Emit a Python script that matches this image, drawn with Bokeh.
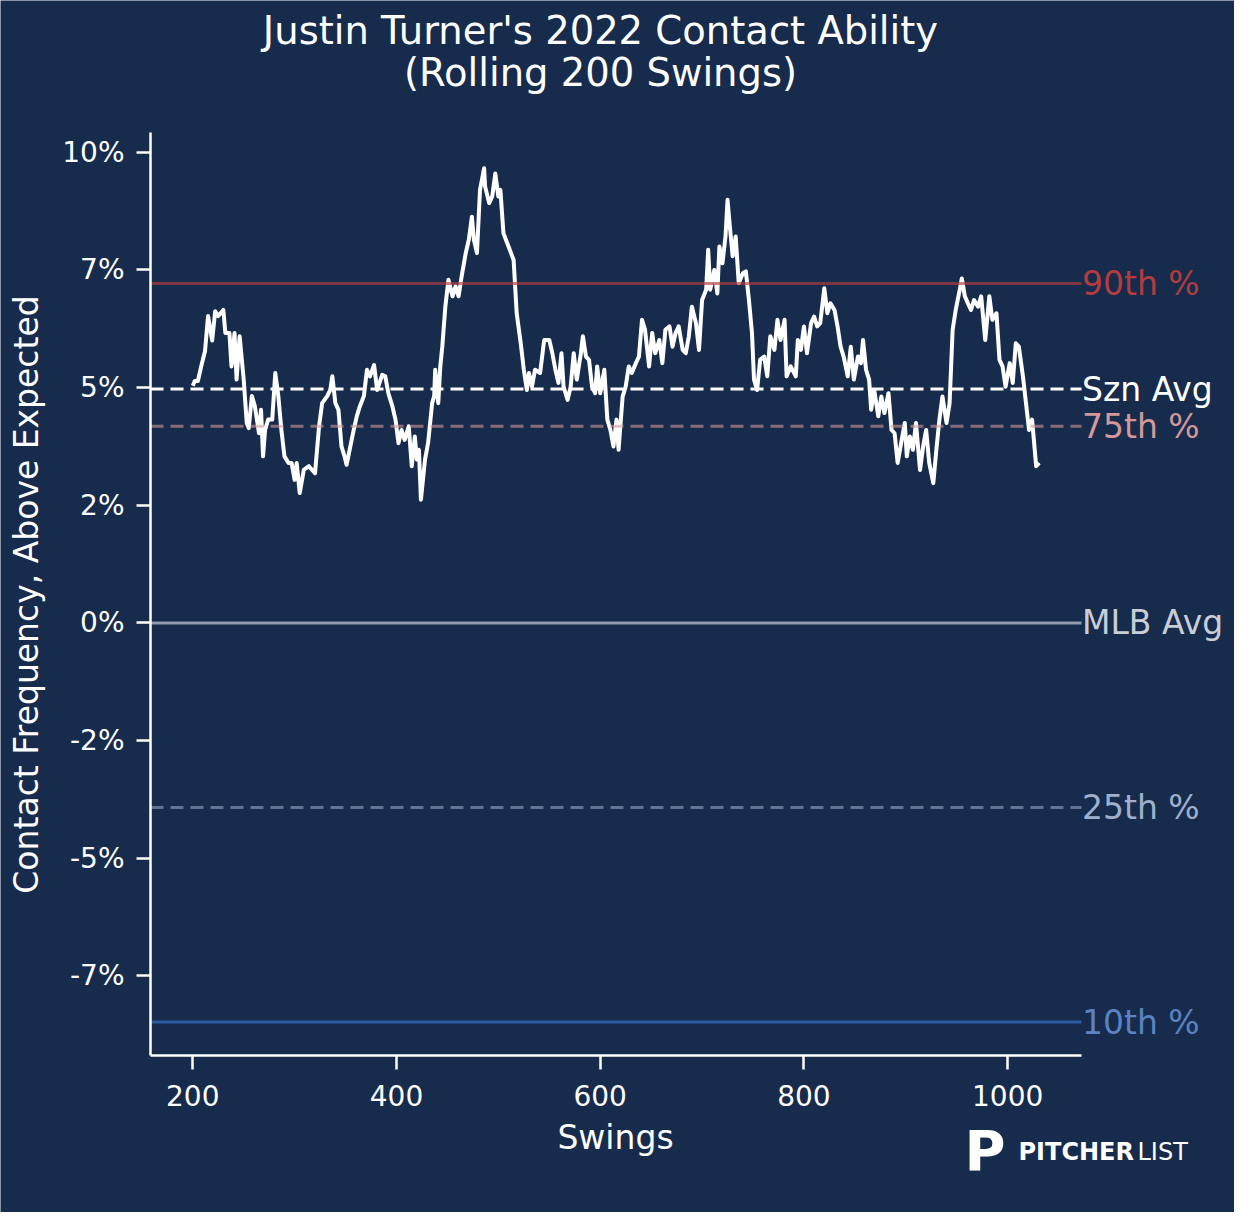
import math
from bokeh.plotting import figure
from bokeh.models import Range1d, FixedTicker
from bokeh.core.properties import value
from bokeh.embed import file_html
from bokeh.resources import INLINE

# ---------------- data ----------------
swings = [200, 202, 205, 209, 212, 215, 219, 222, 225, 230, 232, 236, 238, 241, 243, 246,
          250, 253, 255, 258, 261, 265, 267, 269, 271, 274, 278, 281, 284, 287, 290, 294,
          297, 300, 302, 305, 309, 314, 320, 324, 327, 332, 335, 337, 340, 343, 346, 349,
          351, 354, 358, 361, 364, 368, 371, 374, 378, 381, 386, 389, 392, 396, 399, 402,
          405, 408, 412, 415, 418, 420, 422, 424, 428, 431, 435, 437, 438, 441, 443, 445,
          448, 451, 455, 458, 461, 464, 468, 471, 474, 476, 479, 482, 486, 487, 491, 494,
          497, 500, 502, 505, 510, 515, 518, 522, 525, 528, 530, 533, 536, 541, 545, 550,
          553, 556, 559, 562, 564, 568, 571, 574, 577, 581, 583, 586, 589, 592, 595, 597,
          600, 604, 607, 610, 613, 616, 618, 622, 625, 628, 631, 635, 638, 641, 644, 648,
          651, 654, 658, 661, 664, 668, 671, 674, 677, 681, 684, 687, 690, 694, 697, 700,
          704, 706, 708, 712, 715, 717, 720, 723, 725, 727, 730, 733, 736, 740, 743, 746,
          749, 751, 754, 757, 761, 764, 767, 771, 774, 777, 781, 783, 787, 792, 794, 797,
          800, 803, 807, 810, 813, 816, 820, 823, 826, 830, 833, 836, 839, 843, 846, 849,
          853, 856, 858, 861, 864, 866, 869, 873, 876, 879, 883, 886, 889, 892, 896, 899,
          901, 904, 907, 910, 914, 917, 920, 923, 927, 930, 933, 936, 940, 943, 946, 949,
          953, 955, 958, 961, 964, 967, 971, 974, 978, 982, 985, 989, 992, 995, 998, 1002,
          1005, 1008, 1011, 1015, 1018, 1021, 1024, 1028, 1031]
contact_pct = [5.04, 5.14, 5.14, 5.52, 5.77, 6.52, 6.00, 6.62, 6.52, 6.65, 6.16, 6.16, 5.45, 6.16, 5.17, 6.09,
               5.17, 4.25, 4.14, 4.82, 4.60, 4.03, 4.53, 3.54, 4.10, 4.32, 4.32, 5.31, 4.82, 4.10, 3.54, 3.40,
               3.40, 3.04, 3.40, 2.76, 3.25, 3.33, 3.18, 4.18, 4.67, 4.82, 4.95, 5.24, 4.67, 4.53, 3.75, 3.54,
               3.36, 3.68, 4.10, 4.39, 4.60, 4.82, 5.38, 5.24, 5.48, 4.95, 5.27, 5.24, 4.88, 4.60, 4.32, 3.82,
               4.10, 3.89, 4.18, 3.33, 3.96, 3.47, 3.68, 2.62, 3.47, 3.82, 4.67, 4.82, 5.38, 4.67, 5.45, 5.88,
               6.73, 7.29, 6.94, 7.15, 6.94, 7.37, 7.86, 8.14, 8.63, 8.14, 7.86, 9.20, 9.66, 9.27, 8.92, 9.06,
               9.55, 9.06, 9.20, 8.28, 8.00, 7.71, 6.58, 5.94, 5.38, 4.95, 5.31, 5.02, 5.38, 5.31, 6.01, 6.01,
               5.73, 5.38, 5.10, 5.73, 5.02, 4.74, 5.02, 5.73, 5.17, 5.73, 6.09, 5.66, 5.59, 5.02, 4.88, 5.45,
               4.88, 5.38, 4.32, 4.10, 3.75, 4.32, 3.68, 4.81, 5.02, 5.45, 5.31, 5.52, 5.66, 6.44, 6.23, 5.45,
               6.16, 5.73, 6.01, 5.52, 6.23, 6.30, 5.87, 6.16, 6.30, 5.80, 5.73, 6.09, 6.72, 6.37, 5.80, 6.86,
               7.08, 7.93, 7.08, 7.50, 7.00, 8.00, 7.64, 8.21, 8.99, 8.49, 7.79, 8.21, 7.22, 7.43, 7.47, 6.86,
               6.16, 5.17, 4.95, 5.59, 5.66, 5.24, 6.09, 5.80, 6.44, 6.01, 6.44, 5.24, 5.45, 5.24, 6.01, 5.80,
               6.30, 5.73, 6.37, 6.51, 6.30, 6.37, 7.11, 6.58, 6.79, 6.65, 6.30, 5.87, 5.66, 5.24, 5.87, 5.17,
               5.66, 5.52, 6.01, 5.38, 5.17, 4.53, 4.95, 4.39, 4.81, 4.46, 4.88, 4.10, 4.03, 3.40, 3.89, 4.25,
               3.54, 3.96, 3.68, 4.25, 3.25, 3.75, 4.10, 3.40, 2.97, 3.68, 4.32, 4.81, 4.25, 4.67, 6.23, 6.65,
               7.08, 7.32, 6.94, 6.79, 6.65, 6.86, 6.72, 6.94, 6.01, 6.94, 6.44, 6.58, 5.59, 5.45, 5.02, 5.52,
               5.10, 5.94, 5.87, 5.24, 4.67, 4.10, 4.32, 3.33, 3.40]

x_ticks = [200, 400, 600, 800, 1000]
y_ticks = [-7.5, -5, -2.5, 0, 2.5, 5, 7.5, 10]
y_tick_labels = ["-7%", "-5%", "-2%", "0%", "2%", "5%", "7%", "10%"]

ref_names = ["90th %", "Szn Avg", "75th %", "MLB Avg", "25th %", "10th %"]
ref_values = [7.21, 4.97, 4.18, 0.0, -3.92, -8.48]
ref_line_colors = ["#B43C3C", "#FFFFFF", "#D49898", "#C8CDD6", "#A0B0CC", "#2C5AA0"]
ref_line_alpha = [0.65, 1.0, 0.6, 0.7, 0.55, 1.0]
ref_text_colors = ["#B43C3C", "#FFFFFF", "#D49898", "#C8CDD6", "#A0B0CC", "#5B82C2"]
ref_dashed = [False, True, True, False, True, False]

title_lines = ["Justin Turner's 2022 Contact Ability", "(Rolling 200 Swings)"]
x_label = "Swings"
y_label = "Contact Frequency, Above Expected"

# ---------------- layout ----------------
BG = "#172B4D"
FONT = "DejaVu Sans"
W, H = 1234, 1212
PAGE_OFF = 8
AX_L, AX_R, AX_T, AX_B = 158, 1089, 140, 1063      # visible axes box, page pixels
X0, X1 = 158.5, 1072.5
Y0, Y1 = -9.19, 10.42
SX = (AX_R - AX_L) / (X1 - X0)
SY = (AX_B - AX_T) / (Y1 - Y0)
# the drawing frame covers the whole canvas; the axes are pinned at X0 / Y0
XF0 = X0 - (AX_L - PAGE_OFF) / SX
XF1 = X0 + (PAGE_OFF + W - AX_L) / SX
YF0 = Y0 - (PAGE_OFF + H - AX_B) / SY
YF1 = Y1 + (AX_T - PAGE_OFF) / SY


def dx(px):
    return X0 + (px - AX_L) / SX


def dy(py):
    return Y0 + (AX_B - py) / SY


p = figure(width=W, height=H, output_backend="svg", toolbar_location=None,
           x_range=Range1d(XF0, XF1), y_range=Range1d(YF0, YF1),
           min_border_left=0, min_border_right=0, min_border_top=0, min_border_bottom=0)
p.background_fill_color = BG
p.border_fill_color = BG
p.outline_line_color = None
p.grid.visible = False

p.xaxis.ticker = FixedTicker(ticks=x_ticks)
p.yaxis.ticker = FixedTicker(ticks=y_ticks)
p.yaxis.major_label_overrides = {t: l for t, l in zip(y_ticks, y_tick_labels)}
p.xaxis.bounds = (X0, X1)
p.yaxis.bounds = (Y0, Y1)
p.xaxis.fixed_location = Y0
p.yaxis.fixed_location = X0
for ax in (p.xaxis, p.yaxis):
    ax.axis_line_color = "white"
    ax.axis_line_width = 2.5
    ax.major_tick_line_color = "white"
    ax.major_tick_line_width = 2.5
    ax.major_tick_out = 14
    ax.major_tick_in = 0
    ax.minor_tick_line_color = None
    ax.major_label_text_color = "white"
    ax.major_label_text_font = FONT
    ax.major_label_text_font_size = "28px"
p.xaxis.major_label_standoff = 15
p.yaxis.major_label_standoff = 12

p.line(swings, contact_pct, line_color="white", line_width=4, line_join="round")

for name, v, lc, la, tc, dsh in zip(ref_names, ref_values, ref_line_colors, ref_line_alpha,
                                    ref_text_colors, ref_dashed):
    p.segment(x0=[X0], x1=[X1], y0=[v], y1=[v], line_color=lc, line_alpha=la,
              line_width=3, line_dash="13 7" if dsh else "solid")
    p.text(x=[X1 + 0.5 / SX], y=[v], text=[name], text_color=tc, text_font=value(FONT),
           text_font_size="33px", text_align="left", text_baseline="middle")

# axis titles
p.text(x=[dx(623)], y=[dy(1145)], text=[x_label], text_color="white", text_font=value(FONT),
       text_font_size="33px", text_align="center", text_baseline="middle")
p.text(x=[dx(34)], y=[dy(602)], text=[y_label], text_color="white", text_font=value(FONT),
       text_font_size="33px", text_align="center", text_baseline="middle", angle=math.pi / 2)

# chart title (two centred lines)
p.text(x=[dx(608), dx(608)], y=[dy(38), dy(80)], text=title_lines, text_color="white",
       text_font=value(FONT), text_font_size="38.5px",
       text_align="center", text_baseline="middle")

# PitcherList mark
p.text(x=[dx(972)], y=[dy(1158)], text=["P"], text_color="white",
       text_font=value(FONT), text_font_style="bold", text_font_size="56px",
       text_align="left", text_baseline="middle")
p.text(x=[dx(1026)], y=[dy(1159)], text=["PITCHER"], text_color="white",
       text_font=value(FONT), text_font_style="bold", text_font_size="24px",
       text_align="left", text_baseline="middle")
p.text(x=[dx(1145)], y=[dy(1159)], text=["LIST"], text_color="white",
       text_font=value(FONT), text_font_size="24px",
       text_align="left", text_baseline="middle")

open("out.html", "w").write(file_html(p, INLINE))
